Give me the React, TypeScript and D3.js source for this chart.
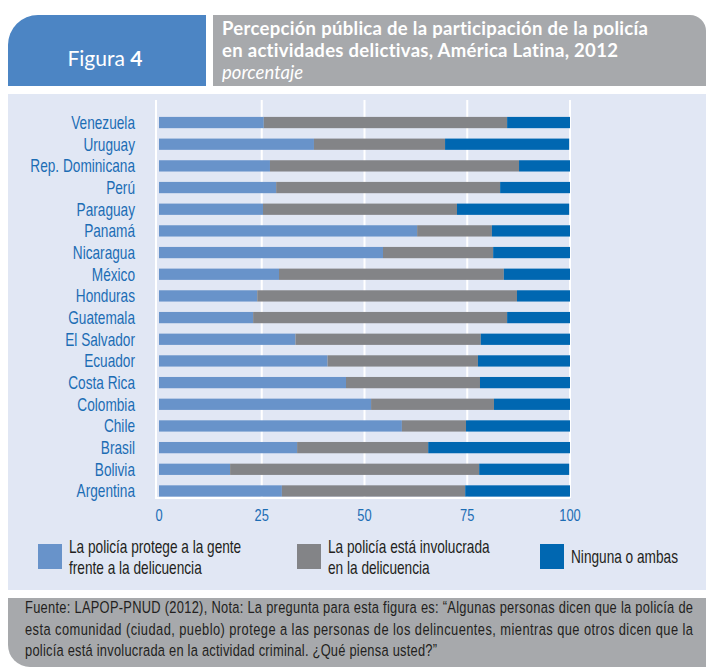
import React from 'react';
import * as d3 from 'd3';

// survey shares per country, in percent
const countries = [
  'Venezuela', 'Uruguay', 'Rep. Dominicana', 'Perú', 'Paraguay', 'Panamá',
  'Nicaragua', 'México', 'Honduras', 'Guatemala', 'El Salvador', 'Ecuador',
  'Costa Rica', 'Colombia', 'Chile', 'Brasil', 'Bolivia', 'Argentina',
];
const protege = [25.5, 37.7, 27.0, 28.5, 25.3, 62.8, 54.5, 29.2, 23.9, 22.9, 33.2, 41.0, 45.5, 51.6, 59.1, 33.6, 17.3, 29.9];
const involucrada = [59.2, 31.9, 60.6, 54.5, 47.2, 18.2, 26.8, 54.7, 63.2, 61.8, 45.1, 36.6, 32.6, 29.9, 15.6, 31.9, 60.6, 44.6];
const ninguna = [15.3, 30.2, 12.4, 17.0, 27.3, 19.0, 18.7, 16.1, 12.9, 15.3, 21.7, 22.4, 21.9, 18.5, 25.3, 34.5, 21.9, 25.5];

const xTicks = [0, 25, 50, 75, 100];
const seriesKeys = ['protege', 'involucrada', 'ninguna'];
const seriesColors = ['#6893ca', '#838487', '#0067b1'];
const legendLabels = [
  ['La policía protege a la gente', 'frente a la delicuencia'],
  ['La policía está involucrada', 'en la delicuencia'],
  ['Ninguna o ambas'],
];

const footerLines = [
  'Fuente: LAPOP-PNUD (2012), Nota: La pregunta para esta figura es: “Algunas personas dicen que la policía de',
  'esta comunidad (ciudad, pueblo) protege a las personas de los delincuentes, mientras que otros dicen que la',
  'policía está involucrada en la actividad criminal. ¿Qué piensa usted?”',
];

// no condensed font available, so squeeze Liberation Sans horizontally
const COND = "'Liberation Sans', Arial, sans-serif";
const SQ = 0.78;
const HEAD = "Lato, 'Open Sans', sans-serif";

type CTProps = {
  x: number;
  y: number;
  anchor?: 'start' | 'middle' | 'end';
  size: number;
  fill: string;
  width?: number;
  dy?: string;
  children: React.ReactNode;
};

// text drawn narrower than the font, like the original's condensed face
const CondText = ({ x, y, anchor = 'start', size, fill, width, dy, children }: CTProps) => (
  <g transform={`translate(${x},${y}) scale(${SQ},1)`}>
    <text
      textAnchor={anchor}
      fontFamily={COND}
      fontSize={size}
      fill={fill}
      dy={dy}
      textLength={width ? width / SQ : undefined}
      lengthAdjust={width ? 'spacing' : undefined}
    >
      {children}
    </text>
  </g>
);

const App: React.FC = () => {
  const width = 706;
  const height = 667;

  const rows = countries.map((c, i) => ({
    country: c,
    protege: protege[i],
    involucrada: involucrada[i],
    ninguna: ninguna[i],
  }));

  const stacked = d3.stack<any>().keys(seriesKeys)(rows);

  const x = d3.scaleLinear().domain([0, 100]).range([159, 570]);
  const y = d3.scaleBand<string>().domain(countries).range([111.7, 501.8]).paddingInner(0.48).paddingOuter(0.24);

  const gridTop = 100;
  const gridBottom = 498;

  return (
    <svg width={width} height={height} style={{ position: 'absolute', left: 0, top: 0 }}>
      <rect width={width} height={height} fill="#fff" />

      {/* header */}
      <path d="M8,86 V45 A30,30 0 0 1 38,15 H206 V86 Z" fill="#4c85c4" />
      <path d="M213,15 H690 A16,16 0 0 1 706,31 V86 H213 Z" fill="#a7a9ac" />
      <text x={105} y={66} textAnchor="middle" fill="#fff" fontFamily={HEAD} fontSize={21}>
        Figura <tspan fontWeight="bold">4</tspan>
      </text>
      <g fill="#fff" fontFamily={HEAD} fontSize={18.5} letterSpacing={0.3}>
        <text x={222} y={35} fontWeight="bold">Percepción pública de la participación de la policía</text>
        <text x={222} y={57} fontWeight="bold">en actividades delictivas, América Latina, 2012</text>
        <text x={222} y={79} fontStyle="italic" letterSpacing={0}>porcentaje</text>
      </g>

      {/* chart panel */}
      <rect x={8} y={94} width={698} height={496} fill="#e1e7f4" />

      {xTicks.filter(t => t > 0).map(t => (
        <line key={t} x1={x(t)} x2={x(t)} y1={gridTop} y2={gridBottom} stroke="#fff" strokeWidth={2} />
      ))}
      <line x1={156} x2={156} y1={gridTop} y2={gridBottom + 1} stroke="#fff" strokeWidth={2} />
      <line x1={156} x2={x(100)} y1={gridBottom} y2={gridBottom} stroke="#fff" strokeWidth={2} />

      {stacked.map((s, si) => (
        <g key={s.key} fill={seriesColors[si]}>
          {s.map((d, i) => (
            <rect
              key={countries[i]}
              x={x(d[0])}
              y={y(countries[i])}
              width={x(d[1]) - x(d[0])}
              height={y.bandwidth()}
            />
          ))}
        </g>
      ))}

      {countries.map(c => (
        <CondText key={c} x={135} y={(y(c) as number) + y.bandwidth() / 2} anchor="end" size={17.5} fill="#1c6db4" dy="0.36em">
          {c}
        </CondText>
      ))}

      {xTicks.map(t => (
        <CondText key={t} x={x(t)} y={521} anchor="middle" size={16.5} fill="#1c6db4">
          {t}
        </CondText>
      ))}

      {/* legend */}
      {legendLabels.map((lines, i) => {
        const lx = [38, 297, 540][i];
        return (
          <g key={i}>
            <rect x={lx} y={544} width={24} height={25} fill={seriesColors[i]} />
            {lines.map((ln, j) => (
              <CondText
                key={j}
                x={lx + 31}
                y={lines.length === 1 ? 563 : 553 + j * 21}
                size={17.5}
                fill="#231f20"
              >
                {ln}
              </CondText>
            ))}
          </g>
        );
      })}

      {/* footer */}
      <path d="M8,598 H706 V667 H30 A22,22 0 0 1 8,645 Z" fill="#a7a9ac" />
      {footerLines.map((ln, i) => (
        <CondText key={i} x={25} y={613 + i * 21.5} size={16.5} fill="#231f20" width={i < 2 ? 668 : 412}>
          {ln}
        </CondText>
      ))}
    </svg>
  );
};

export default App;
